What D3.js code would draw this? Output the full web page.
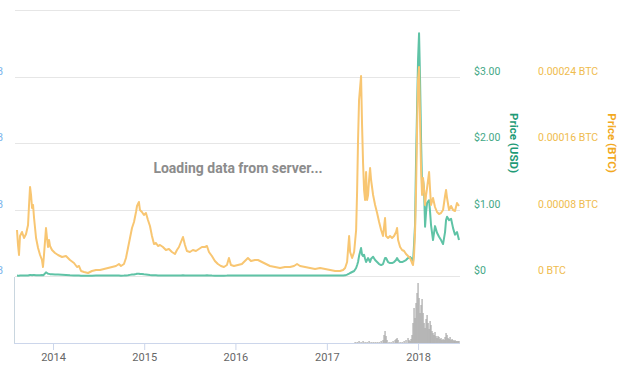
<!DOCTYPE html>
<html>
<head>
<meta charset="utf-8">
<script src="https://cdn.jsdelivr.net/npm/d3@7"></script>
<style>
  html, body { margin: 0; padding: 0; background: #fff; }
  svg { display: block; font-family: Roboto, "Noto Sans", sans-serif; }
</style>
</head>
<body>
<div id="chart"></div>
<script>
// dates as decimal years
const dates = [
  2013.605, 2013.616, 2013.627, 2013.638, 2013.660, 2013.682, 2013.704, 2013.726, 2013.737, 2013.748,
  2013.759, 2013.770, 2013.781, 2013.792, 2013.814, 2013.836, 2013.858, 2013.879, 2013.890, 2013.901,
  2013.923, 2013.934, 2013.945, 2013.956, 2013.967, 2013.989, 2014.022, 2014.055, 2014.099, 2014.142,
  2014.186, 2014.230, 2014.263, 2014.285, 2014.307, 2014.340, 2014.384, 2014.427, 2014.471, 2014.515,
  2014.559, 2014.603, 2014.647, 2014.690, 2014.723, 2014.745, 2014.778, 2014.800, 2014.822, 2014.844,
  2014.866, 2014.888, 2014.910, 2014.921, 2014.942, 2014.953, 2014.975, 2014.997, 2015.019, 2015.041,
  2015.063, 2015.085, 2015.107, 2015.129, 2015.151, 2015.173, 2015.205, 2015.238, 2015.271, 2015.304,
  2015.337, 2015.359, 2015.381, 2015.403, 2015.425, 2015.447, 2015.468, 2015.501, 2015.534, 2015.567,
  2015.600, 2015.633, 2015.666, 2015.688, 2015.710, 2015.742, 2015.775, 2015.808, 2015.841, 2015.874,
  2015.907, 2015.929, 2015.951, 2015.984, 2016.027, 2016.071, 2016.115, 2016.137, 2016.170, 2016.214,
  2016.247, 2016.290, 2016.334, 2016.378, 2016.433, 2016.488, 2016.542, 2016.597, 2016.641, 2016.674,
  2016.707, 2016.762, 2016.816, 2016.871, 2016.926, 2016.981, 2017.036, 2017.090, 2017.145, 2017.178,
  2017.200, 2017.222, 2017.244, 2017.255, 2017.277, 2017.299, 2017.321, 2017.332, 2017.342, 2017.353,
  2017.375, 2017.386, 2017.397, 2017.408, 2017.419, 2017.430, 2017.441, 2017.452, 2017.463, 2017.474,
  2017.485, 2017.507, 2017.529, 2017.551, 2017.573, 2017.595, 2017.616, 2017.638, 2017.649, 2017.671,
  2017.693, 2017.715, 2017.737, 2017.759, 2017.770, 2017.781, 2017.803, 2017.825, 2017.847, 2017.868,
  2017.890, 2017.912, 2017.934, 2017.945, 2017.956, 2017.967, 2017.978, 2017.989, 2018.000, 2018.011,
  2018.022, 2018.033, 2018.044, 2018.055, 2018.066, 2018.077, 2018.088, 2018.099, 2018.121, 2018.132,
  2018.142, 2018.164, 2018.186, 2018.208, 2018.230, 2018.252, 2018.274, 2018.296, 2018.307, 2018.318,
  2018.340, 2018.362, 2018.384, 2018.405, 2018.427, 2018.449
];

// price in satoshi (1e-8 BTC)
const priceBtcSat = [
  5534, 3729, 2526, 4812, 5293, 4571, 5053, 6135, 8541, 10707,
  9744, 8180, 8541, 6977, 4571, 3368, 2526, 1925, 1083, 2526,
  5774, 4571, 3489, 4331, 3609, 3128, 2767, 2526, 2286, 2406,
  1925, 1564, 1083, 1203, 602, 481, 361, 602, 722, 722,
  842, 962, 1083, 1203, 1444, 1203, 1444, 2165, 3368, 4571,
  5774, 6496, 7699, 8421, 8902, 7940, 7699, 7338, 7579, 6737,
  6015, 4812, 3850, 3970, 3609, 3729, 3489, 3128, 3248, 2887,
  2647, 3128, 3489, 4090, 4692, 3729, 3008, 2887, 3128, 3008,
  3248, 3489, 3489, 3609, 2887, 2406, 1805, 1444, 1203, 1083,
  1323, 2165, 1323, 1203, 1323, 1444, 1925, 2165, 1805, 1925,
  1925, 1684, 1444, 1203, 1083, 962, 1083, 1083, 1203, 1444,
  1203, 1083, 962, 842, 962, 842, 722, 602, 602, 722,
  962, 1684, 4812, 2887, 2165, 2887, 5534, 10346, 16361, 21173,
  24060, 18165, 13594, 10346, 9143, 12511, 9143, 9744, 11549, 12992,
  11549, 9744, 8541, 7579, 6496, 5534, 4812, 6977, 4812, 4571,
  4812, 4571, 4812, 5293, 5774, 4331, 3489, 3128, 3008, 2647,
  2406, 2165, 1564, 1323, 2526, 5293, 10346, 17564, 23579, 25143,
  18767, 12752, 9744, 11789, 10346, 8541, 9744, 10586, 12511, 10346,
  8541, 9383, 8301, 7699, 7459, 7579, 7940, 9624, 10346, 9383,
  7940, 8421, 7940, 7820, 8782, 8421
];

const priceUsd = [
  0.006, 0.005, 0.004, 0.006, 0.007, 0.006, 0.007, 0.008, 0.011, 0.014,
  0.014, 0.013, 0.015, 0.014, 0.012, 0.011, 0.012, 0.014, 0.010, 0.020,
  0.055, 0.045, 0.035, 0.032, 0.028, 0.026, 0.024, 0.022, 0.019, 0.016,
  0.010, 0.008, 0.006, 0.006, 0.005, 0.005, 0.004, 0.005, 0.006, 0.006,
  0.006, 0.006, 0.006, 0.006, 0.006, 0.005, 0.006, 0.008, 0.012, 0.017,
  0.021, 0.024, 0.029, 0.033, 0.035, 0.030, 0.029, 0.025, 0.024, 0.020,
  0.016, 0.013, 0.011, 0.011, 0.009, 0.009, 0.008, 0.008, 0.008, 0.007,
  0.006, 0.007, 0.008, 0.009, 0.011, 0.009, 0.007, 0.007, 0.008, 0.008,
  0.009, 0.009, 0.009, 0.010, 0.008, 0.006, 0.005, 0.004, 0.005, 0.005,
  0.006, 0.009, 0.006, 0.006, 0.006, 0.006, 0.008, 0.009, 0.007, 0.008,
  0.008, 0.007, 0.007, 0.006, 0.006, 0.006, 0.006, 0.006, 0.007, 0.008,
  0.007, 0.007, 0.006, 0.006, 0.007, 0.006, 0.006, 0.007, 0.007, 0.008,
  0.010, 0.020, 0.035, 0.045, 0.060, 0.075, 0.120, 0.165, 0.210, 0.300,
  0.420, 0.320, 0.300, 0.320, 0.260, 0.210, 0.240, 0.270, 0.240, 0.210,
  0.260, 0.290, 0.240, 0.210, 0.180, 0.165, 0.180, 0.270, 0.270, 0.210,
  0.195, 0.195, 0.210, 0.240, 0.270, 0.240, 0.210, 0.210, 0.225, 0.240,
  0.270, 0.285, 0.255, 0.210, 0.470, 0.770, 1.740, 2.500, 3.250, 3.650,
  2.950, 2.050, 1.340, 1.440, 1.290, 0.740, 0.960, 1.100, 1.140, 0.960,
  0.770, 0.540, 0.750, 0.650, 0.590, 0.540, 0.480, 0.660, 0.840, 0.890,
  0.840, 0.860, 0.720, 0.620, 0.660, 0.540
];

// navigator volume (million USD)
const volDates = [
  2017.310, 2017.332, 2017.353, 2017.375, 2017.397, 2017.419, 2017.441, 2017.463, 2017.485, 2017.507,
  2017.529, 2017.551, 2017.573, 2017.595, 2017.616, 2017.627, 2017.638, 2017.649, 2017.660, 2017.682,
  2017.704, 2017.726, 2017.748, 2017.759, 2017.770, 2017.781, 2017.803, 2017.825, 2017.847, 2017.868,
  2017.890, 2017.901, 2017.912, 2017.923, 2017.934, 2017.945, 2017.956, 2017.967, 2017.978, 2017.989,
  2018.000, 2018.011, 2018.022, 2018.033, 2018.044, 2018.055, 2018.066, 2018.077, 2018.088, 2018.099,
  2018.110, 2018.121, 2018.132, 2018.142, 2018.153, 2018.164, 2018.175, 2018.186, 2018.197, 2018.208,
  2018.219, 2018.230, 2018.241, 2018.252, 2018.263, 2018.274, 2018.285, 2018.296, 2018.307, 2018.318,
  2018.329, 2018.340, 2018.351, 2018.362, 2018.373, 2018.384, 2018.395, 2018.405, 2018.416, 2018.427,
  2018.438, 2018.449
];
const volumeM = [
  150, 150, 300, 150, 300, 150, 150, 300, 150, 150,
  150, 150, 150, 300, 450, 1200, 1800, 1050, 450, 150,
  150, 300, 450, 600, 750, 450, 150, 150, 300, 450,
  750, 450, 300, 600, 1200, 3000, 5250, 3750, 6000, 7500,
  9000, 6750, 4500, 5700, 6600, 4500, 3000, 2250, 3600, 4200,
  3000, 2100, 3300, 2700, 1800, 1500, 1200, 1650, 1050, 750,
  1050, 900, 600, 750, 450, 600, 450, 900, 1500, 1200,
  750, 600, 900, 450, 600, 450, 300, 450, 300, 300,
  300, 300
];

const gridValues = [0, 1, 2, 3, 4];
const usdTicks = [0, 1, 2, 3];
const usdTickLabels = ["$0", "$1.00", "$2.00", "$3.00"];
const btcTicksSat = [0, 8000, 16000, 24000];
const btcTickLabels = ["0 BTC", "0.00008 BTC", "0.00016 BTC", "0.00024 BTC"];
const capTickLabels = ["$0B", "$40B", "$80B", "$120B"];

const W = 640, H = 389;

function yearToDate(y) {
  const yr = Math.floor(y);
  const a = Date.UTC(yr, 0, 1), b = Date.UTC(yr + 1, 0, 1);
  return new Date(a + (y - yr) * (b - a));
}

const rows = dates.map((d, i) => ({ date: yearToDate(d), usd: priceUsd[i], sat: priceBtcSat[i] }));
const vols = volDates.map((d, i) => ({ date: yearToDate(d), v: volumeM[i] }));

const svg = d3.select('#chart').append('svg')
  .attr('width', W).attr('height', H);

const plotLeft = 15, plotRight = 460;

const x = d3.scaleUtc()
  .domain(d3.extent(rows, d => d.date))
  .range([17, 459]);
const yUsd = d3.scaleLinear().domain([0, 4]).range([276, 10]);
const ySat = d3.scaleLinear().domain([0, 32000]).range([276, 10]);

// gridlines
svg.append('g')
  .selectAll('line')
  .data(gridValues)
  .join('line')
  .attr('x1', plotLeft).attr('x2', plotRight)
  .attr('y1', d => Math.round(yUsd(d)) + 0.5)
  .attr('y2', d => Math.round(yUsd(d)) + 0.5)
  .attr('stroke', '#e6e6e6');

// cut-off left axis labels
svg.append('g')
  .selectAll('text')
  .data(usdTicks)
  .join('text')
  .attr('x', 3).attr('y', d => yUsd(d) - 2)
  .attr('text-anchor', 'end')
  .attr('fill', '#7cb5ec')
  .style('font-size', '10.5px')
  .text((d, i) => capTickLabels[i]);

// loading message
svg.append('text')
  .attr('x', 238).attr('y', 173)
  .attr('text-anchor', 'middle')
  .attr('fill', '#8c8c8c')
  .style('font-size', '14px').style('font-weight', 'bold')
  .text('Loading data from server...');

// navigator volume bars
const navTop = 277, navBottom = 343;
const yVol = d3.scaleLinear().domain([0, 9900]).range([navBottom, navTop]);
svg.append('g')
  .selectAll('rect')
  .data(vols)
  .join('rect')
  .attr('x', d => x(d.date) - 0.6)
  .attr('width', 1.2)
  .attr('y', d => yVol(d.v))
  .attr('height', d => navBottom - yVol(d.v))
  .attr('fill', '#a9a9a9');

// navigator outline
svg.append('line')
  .attr('x1', 14.5).attr('x2', 14.5).attr('y1', navTop).attr('y2', navBottom)
  .attr('stroke', '#c9d6df');
svg.append('line')
  .attr('x1', 14).attr('x2', plotRight).attr('y1', navBottom + 0.5).attr('y2', navBottom + 0.5)
  .attr('stroke', '#ccd6eb');

// navigator x axis
const xAxis = svg.append('g')
  .attr('transform', `translate(0,${navBottom})`)
  .call(d3.axisBottom(x).ticks(d3.utcYear.every(1)).tickFormat(d3.utcFormat('%Y')).tickSize(7).tickSizeOuter(0));
xAxis.select('.domain').remove();
xAxis.selectAll('.tick line').attr('stroke', '#ccd6eb');
xAxis.selectAll('.tick text')
  .attr('fill', '#666')
  .style('font-size', '11px')
  .style('font-family', 'Roboto, sans-serif');

// price lines
const lineUsd = d3.line().x(d => x(d.date)).y(d => yUsd(d.usd));
const lineBtc = d3.line().x(d => x(d.date)).y(d => ySat(d.sat));

svg.append('path')
  .datum(rows)
  .attr('fill', 'none')
  .attr('stroke', '#5fc3a6')
  .attr('stroke-width', 2)
  .attr('stroke-linejoin', 'round')
  .attr('d', lineUsd);

svg.append('path')
  .datum(rows)
  .attr('fill', 'none')
  .attr('stroke', '#f8c672')
  .attr('stroke-width', 2)
  .attr('stroke-linejoin', 'round')
  .attr('d', lineBtc);

// right axes labels
svg.append('g')
  .selectAll('text')
  .data(usdTicks)
  .join('text')
  .attr('x', 474).attr('y', d => yUsd(d) - 2)
  .attr('fill', '#3fa786')
  .style('font-size', '10.5px')
  .text((d, i) => usdTickLabels[i]);

svg.append('g')
  .selectAll('text')
  .data(btcTicksSat)
  .join('text')
  .attr('x', 538).attr('y', d => ySat(d) - 2)
  .attr('fill', '#efbc4e')
  .style('font-size', '10.5px')
  .text((d, i) => btcTickLabels[i]);

// axis titles
svg.append('text')
  .attr('transform', 'translate(510,143) rotate(90)')
  .attr('text-anchor', 'middle')
  .attr('fill', '#1f9b77')
  .style('font-size', '11.5px').style('font-weight', 'bold')
  .text('Price (USD)');

svg.append('text')
  .attr('transform', 'translate(608,143) rotate(90)')
  .attr('text-anchor', 'middle')
  .attr('fill', '#f2a91e')
  .style('font-size', '11.5px').style('font-weight', 'bold')
  .text('Price (BTC)');
</script>
</body>
</html>
